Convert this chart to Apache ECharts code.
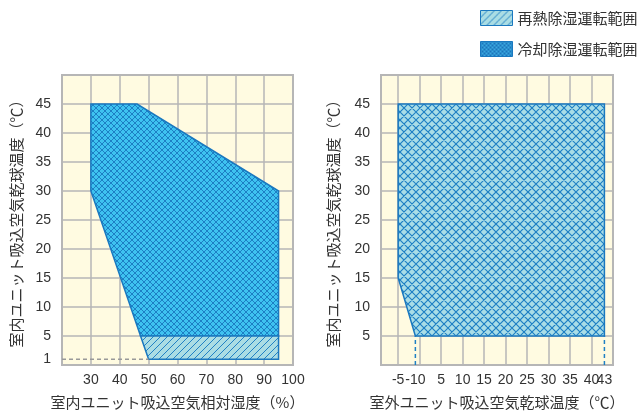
<!DOCTYPE html>
<html><head><meta charset="utf-8">
<script src="https://cdn.jsdelivr.net/npm/echarts@6/dist/echarts.min.js"></script>
<style>html,body{margin:0;padding:0;background:#fff}#c{width:638px;height:418px}</style>
</head><body><div id="c"></div><script>
// ---- data ----
const legendNames = ['再熱除湿運転範囲', '冷却除湿運転範囲'];
const leftXTicks = [30, 40, 50, 60, 70, 80, 90, 100];
const leftYTicks = [1, 5, 10, 15, 20, 25, 30, 35, 40, 45];
const leftCooling = [[30, 45], [46, 45], [95, 30], [95, 5], [47.2, 5], [30, 30]];
const leftReheat = [[47.2, 5], [95, 5], [95, 1], [50, 1]];
const leftRefLine = [[20, 1], [50, 1]];
const rightXGrid = [-5, 0, 5, 10, 15, 20, 25, 30, 35, 40, 45];
const rightXTickValues = [-5, -1, 5, 10, 15, 20, 25, 30, 35, 40];
const rightXTickLabels = ['-5', '-10', '5', '10', '15', '20', '25', '30', '35', '40'];
const rightXEndValues = [43];
const rightXEndLabels = ['43'];
const rightYTicks = [5, 10, 15, 20, 25, 30, 35, 40, 45];
const rightCooling = [[-5, 45], [43, 45], [43, 5], [-1, 5], [-5, 15]];
const rightRefLineA = [[-1, 0], [-1, 5]];
const rightRefLineB = [[43, 0], [43, 5]];
const titles = {
  leftX: '室内ユニット吸込空気相対湿度（%）',
  leftY: '室内ユニット吸込空気乾球温度（℃）',
  rightX: '室外ユニット吸込空気乾球温度（℃）',
  rightY: '室内ユニット吸込空気乾球温度（℃）'
};

// ---- patterns ----
function makePattern(bg, fg, period, cross, lw) {
  const n = 4, s = period * n;
  const c = document.createElement('canvas');
  c.width = s; c.height = s;
  const g = c.getContext('2d');
  g.fillStyle = bg; g.fillRect(0, 0, s, s);
  g.strokeStyle = fg; g.lineWidth = lw;
  g.beginPath();
  const e = period;
  for (let k = -n - 1; k <= 2 * n + 1; k++) {
    const o = k * period;
    g.moveTo(o + e, -e); g.lineTo(o - s - e, s + e);            // "/"
    if (cross) { g.moveTo(o - e, -e); g.lineTo(o + s + e, s + e); } // "\"
  }
  g.stroke();
  return { image: c, repeat: 'repeat' };
}
const patCoolLeft = makePattern('#3ec2f0', '#1d7fc4', 6, true, 1.0);
const patCoolRight = makePattern('#a9dde7', '#1f80c4', 8, true, 1.2);
const patReheat = makePattern('#aadde4', '#2282c4', 7, false, 1.0);
const patLegendCool = makePattern('#3aa9df', '#1c74bb', 4, true, 1);
const edge = '#1a78bf';

function polySeries(name, verts, fill, xi) {
  return {
    type: 'custom', name: name, xAxisIndex: xi, yAxisIndex: xi,
    data: verts,
    itemStyle: { color: fill, borderColor: edge, borderWidth: 1 },
    renderItem: function (params, api) {
      if (params.dataIndex !== 0) return null;
      return {
        type: 'polygon',
        shape: { points: verts.map(v => api.coord(v)) },
        style: { fill: fill, stroke: edge, lineWidth: 1.5 }
      };
    },
    z: 3
  };
}
function refLine(data, color, xi) {
  return {
    type: 'line', xAxisIndex: xi, yAxisIndex: xi, data: data, symbol: 'none',
    lineStyle: { color: color, width: 1.5, type: [4, 3] }, z: 4, silent: true
  };
}

const gridLine = { show: true, lineStyle: { color: '#b6b6b6', width: 1.5 } };
const numFont = { fontFamily: 'Liberation Sans', fontSize: 14, color: '#333' };
const nameFont = { fontFamily: "'Noto Sans CJK JP'", fontSize: 15, color: '#333' };

const option = {
  animation: false,
  legend: {
    orient: 'vertical', left: 475, top: 5, itemWidth: 32, itemHeight: 15, itemGap: 15,
    textStyle: { fontFamily: "'Noto Sans CJK JP'", fontSize: 15, color: '#333' },
    data: [
      { name: legendNames[0], icon: 'rect', itemStyle: { color: patReheat, borderColor: edge, borderWidth: 1 } },
      { name: legendNames[1], icon: 'rect', itemStyle: { color: patLegendCool, borderColor: edge, borderWidth: 1 } }
    ]
  },
  grid: [
    { left: 62, top: 75, width: 231, height: 290, show: true, backgroundColor: '#fffbe1', borderColor: '#b6b6b6', borderWidth: 2 },
    { left: 381, top: 75, width: 232, height: 290, show: true, backgroundColor: '#fffbe1', borderColor: '#b6b6b6', borderWidth: 2 }
  ],
  xAxis: [
    {
      gridIndex: 0, type: 'value', min: 20, max: 100, interval: 10,
      axisLine: { show: false }, axisTick: { show: false }, splitLine: gridLine,
      axisLabel: Object.assign({ customValues: leftXTicks, margin: 8, showMaxLabel: true }, numFont),
      name: titles.leftX, nameLocation: 'middle', nameGap: 30, nameTextStyle: nameFont
    },
    {
      gridIndex: 1, type: 'value', min: -9, max: 45,
      axisLine: { show: false }, axisTick: { show: false, customValues: rightXGrid }, splitLine: gridLine,
      axisLabel: Object.assign({
        customValues: rightXTickValues, margin: 8, showMinLabel: true,
        formatter: v => rightXTickLabels[rightXTickValues.indexOf(v)]
      }, numFont),
      name: titles.rightX, nameLocation: 'middle', nameGap: 30, nameTextStyle: nameFont
    },
    {
      gridIndex: 1, type: 'value', min: -9, max: 45, position: 'bottom',
      axisLine: { show: false }, axisTick: { show: false }, splitLine: { show: false },
      axisLabel: Object.assign({
        customValues: rightXEndValues, margin: 8,
        formatter: v => rightXEndLabels[rightXEndValues.indexOf(v)]
      }, numFont)
    }
  ],
  yAxis: [
    {
      gridIndex: 0, type: 'value', min: 0, max: 50, interval: 5,
      axisLine: { show: false }, axisTick: { show: false }, splitLine: gridLine,
      axisLabel: Object.assign({ customValues: leftYTicks, margin: 11 }, numFont),
      name: titles.leftY, nameLocation: 'middle', nameGap: 38, nameTextStyle: nameFont
    },
    {
      gridIndex: 1, type: 'value', min: 0, max: 50, interval: 5,
      axisLine: { show: false }, axisTick: { show: false }, splitLine: gridLine,
      axisLabel: Object.assign({ customValues: rightYTicks, margin: 11 }, numFont),
      name: titles.rightY, nameLocation: 'middle', nameGap: 40, nameTextStyle: nameFont
    }
  ],
  series: [
    polySeries(legendNames[1], leftCooling, patCoolLeft, 0),
    polySeries(legendNames[0], leftReheat, patReheat, 0),
    polySeries(legendNames[1], rightCooling, patCoolRight, 1),
    refLine(leftRefLine, '#999999', 0),
    refLine(rightRefLineA, '#1f80c4', 1),
    refLine(rightRefLineB, '#1f80c4', 1)
  ]
};
const chart = echarts.init(document.getElementById('c'), null, { renderer: 'canvas' });
chart.setOption(option);
</script></body></html>
